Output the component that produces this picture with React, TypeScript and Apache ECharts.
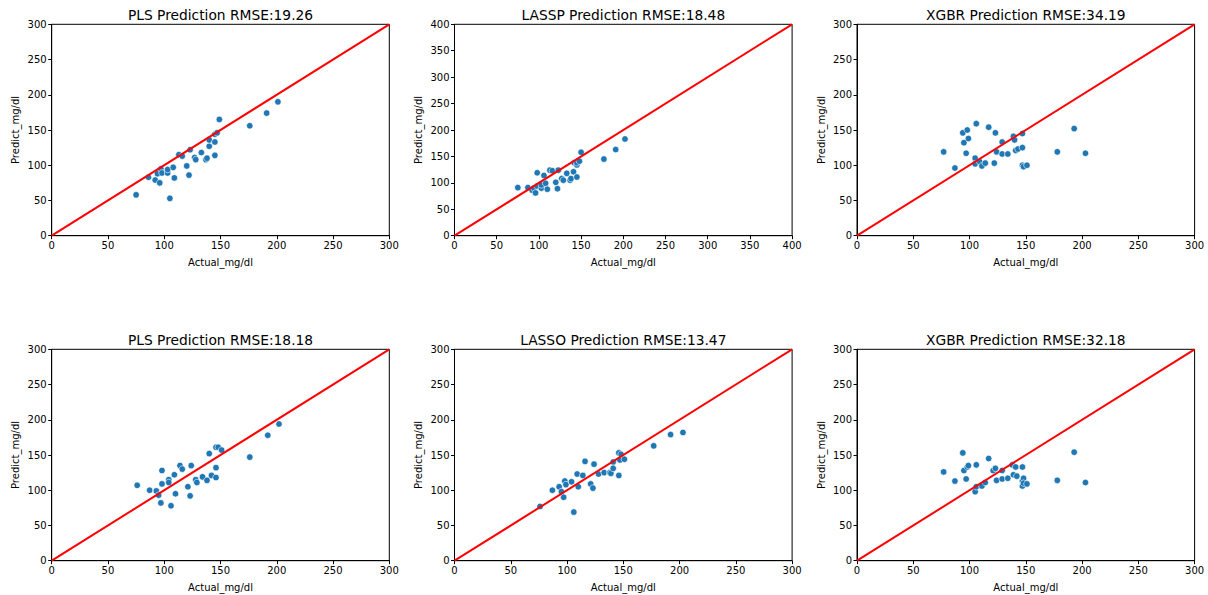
import React, { useEffect, useRef } from "react";
import * as echarts from "echarts";

const titles = [
  "PLS Prediction RMSE:19.26",
  "LASSP Prediction RMSE:18.48",
  "XGBR Prediction RMSE:34.19",
  "PLS Prediction RMSE:18.18",
  "LASSO Prediction RMSE:13.47",
  "XGBR Prediction RMSE:32.18",
];
const axisMax = [300, 400, 300, 300, 300, 300];

const act1 = [75, 86, 92, 94, 96, 97, 98, 103, 103, 105, 108, 109, 113, 116, 120, 122, 123, 127, 128, 133, 137, 138, 140, 140, 145, 145, 145, 147, 149, 176, 191, 201];
const pred1 = [58, 83, 79, 88, 75, 95, 89, 89, 94, 53, 97, 82, 115, 113, 99, 86, 122, 111, 108, 118, 108, 110, 127, 136, 114, 133, 144, 146, 165, 156, 174, 190];

const act2 = [75, 87, 92, 94, 96, 98, 98, 103, 103, 106, 108, 110, 113, 116, 120, 122, 123, 127, 129, 133, 137, 138, 141, 142, 145, 145, 145, 148, 150, 177, 191, 202];
const pred2 = [91, 91, 86, 90, 81, 119, 94, 90, 96, 114, 99, 88, 124, 123, 101, 89, 124, 108, 105, 118, 105, 108, 121, 138, 111, 134, 138, 141, 158, 145, 163, 183];

const act3 = [77, 87, 94, 95, 97, 98, 99, 105, 105, 106, 109, 111, 114, 117, 122, 123, 124, 129, 129, 134, 139, 140, 141, 143, 147, 147, 147, 148, 151, 178, 193, 203];
const pred3 = [119, 96, 146, 132, 117, 150, 138, 110, 102, 159, 105, 99, 103, 154, 103, 146, 119, 116, 133, 116, 141, 136, 121, 123, 145, 125, 100, 98, 100, 119, 152, 117];

const act4 = [76, 87, 93, 95, 97, 98, 98, 104, 104, 106, 109, 110, 114, 116, 121, 123, 124, 128, 129, 134, 138, 140, 142, 146, 146, 146, 148, 151, 176, 192, 202];
const pred4 = [107, 100, 99, 93, 82, 128, 109, 115, 111, 78, 122, 95, 135, 130, 105, 92, 135, 115, 111, 119, 114, 152, 121, 161, 132, 118, 161, 157, 147, 178, 194];

const act5 = [76, 87, 93, 95, 97, 98, 99, 104, 106, 109, 110, 114, 116, 121, 123, 124, 128, 133, 138, 139, 141, 141, 146, 146, 147, 148, 151, 177, 192, 203];
const pred5 = [77, 100, 105, 98, 90, 113, 108, 112, 69, 123, 105, 121, 141, 109, 103, 137, 123, 125, 125, 124, 140, 131, 121, 153, 143, 151, 144, 163, 179, 182];

const act6 = [77, 87, 94, 95, 97, 98, 99, 105, 106, 106, 111, 114, 117, 121, 123, 124, 129, 129, 134, 138, 139, 141, 142, 147, 147, 147, 148, 148, 151, 178, 193, 203];
const pred6 = [126, 113, 153, 128, 116, 133, 135, 98, 136, 105, 106, 111, 145, 128, 131, 114, 116, 128, 117, 136, 122, 133, 120, 133, 113, 106, 117, 110, 109, 114, 154, 111];

const actuals = [act1, act2, act3, act4, act5, act6];
const preds = [pred1, pred2, pred3, pred4, pred5, pred6];

const FONT = "DejaVu Sans";

export default function App() {
  const ref = useRef<HTMLDivElement>(null);
  useEffect(() => {
    if (!ref.current) return;
    const chart = echarts.init(ref.current, null, { renderer: "svg" });
    const lefts = [51.7, 454.5, 857];
    const tops = [24.3, 349.3];
    const W = 337.6;
    const H = 211.4;
    const grids: any[] = [];
    const xAxes: any[] = [];
    const yAxes: any[] = [];
    const series: any[] = [];
    const titleArr: any[] = [];
    for (let i = 0; i < 6; i++) {
      const c = i % 3;
      const r = Math.floor(i / 3);
      grids.push({
        left: lefts[c],
        top: tops[r],
        width: W,
        height: H,
        show: true,
        borderColor: "#000",
        borderWidth: 1,
        backgroundColor: "transparent",
      });
      titleArr.push({
        text: titles[i],
        left: lefts[c] + W / 2,
        top: tops[r] - 16.5,
        padding: 0,
        textAlign: "center",
        textStyle: { fontFamily: FONT, fontSize: 13.8, fontWeight: "normal", color: "#000" },
      });
      const common = {
        gridIndex: i,
        type: "value",
        min: 0,
        max: axisMax[i],
        interval: 50,
        axisLine: { show: true, onZero: false, lineStyle: { color: "#000", width: 1 } },
        axisTick: { show: true, inside: false, length: 3.5, lineStyle: { color: "#000" } },
        splitLine: { show: false },
        axisLabel: { color: "#000", fontFamily: FONT, fontSize: 10, margin: 5 },
        nameLocation: "middle",
        nameTextStyle: { color: "#000", fontFamily: FONT, fontSize: 10 },
      };
      xAxes.push({ ...common, name: "Actual_mg/dl", nameGap: 22 });
      yAxes.push({ ...common, name: "Predict_mg/dl", nameGap: 31 });
      series.push({
        type: "scatter",
        xAxisIndex: i,
        yAxisIndex: i,
        symbolSize: 6.5,
        itemStyle: { color: "#1f77b4", borderColor: "#fff", borderWidth: 0.6, opacity: 1 },
        data: actuals[i].map((a, k) => [a, preds[i][k]]),
        z: 2,
      });
      series.push({
        type: "line",
        xAxisIndex: i,
        yAxisIndex: i,
        symbol: "none",
        lineStyle: { color: "#ff0000", width: 2 },
        data: [
          [0, 0],
          [axisMax[i], axisMax[i]],
        ],
        z: 3,
      });
    }
    chart.setOption({
      animation: false,
      backgroundColor: "#fff",
      title: titleArr,
      grid: grids,
      xAxis: xAxes,
      yAxis: yAxes,
      series,
    });
    return () => chart.dispose();
  }, []);
  return (
    <div
      ref={ref}
      style={{ position: "fixed", left: 0, top: 0, width: 1208, height: 595 }}
    />
  );
}
